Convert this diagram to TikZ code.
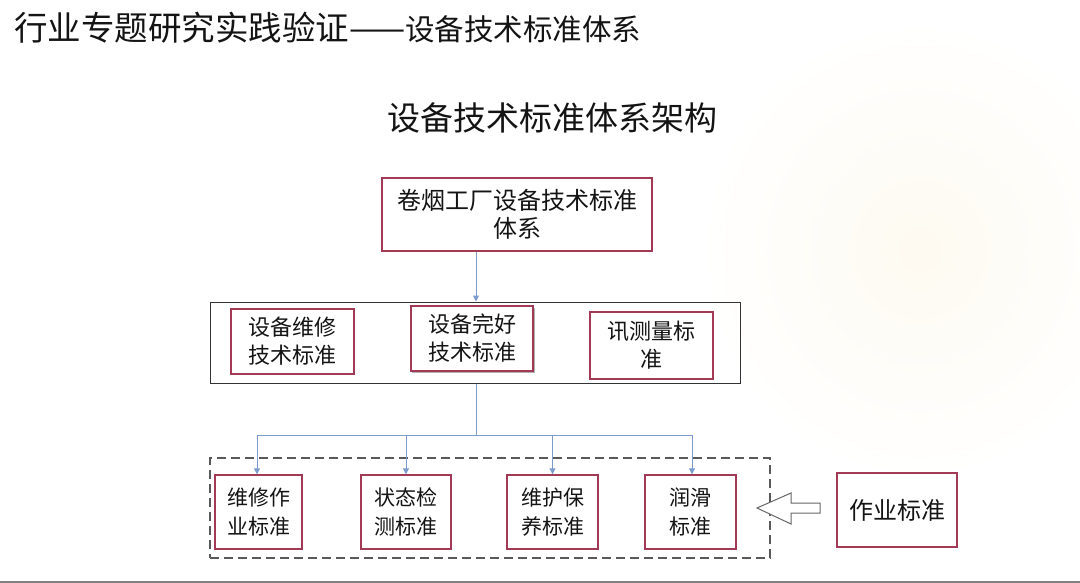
\documentclass[tikz,border=0pt]{standalone}
\usepackage{fontspec}
\setmainfont{Noto Sans CJK SC}
\usetikzlibrary{arrows.meta,shapes.geometric}
\definecolor{boxred}{HTML}{A23A55}
\definecolor{conn}{HTML}{7B9CCC}
\definecolor{txt}{HTML}{141414}
\definecolor{cream}{HTML}{FEFAF1}
\tikzset{
  redbox/.style={draw=boxred,line width=1.4pt,fill=white,inner sep=0pt,align=center,text=txt},
  midtext/.style={font=\fontsize{22pt}{28pt}\selectfont},
  bottext/.style={font=\fontsize{21pt}{29pt}\selectfont},
  connline/.style={draw=conn,line width=1pt},
  connarrow/.style={connline,-{Triangle[width=6pt,length=6pt]}},
}
\begin{document}
\begin{tikzpicture}[x=1pt,y=-1pt]
\useasboundingbox (0,0) rectangle (1080,583);
\fill[white] (0,0) rectangle (1080,583);
\shade[inner color=cream,outer color=white] (920,250) ellipse (220 and 230);
\draw[gray,line width=2pt] (0,582) -- (1080,582);

% titles
\node[anchor=west,text=txt,inner sep=0pt] (title) at (14,28)
  {\fontsize{33.5pt}{36pt}\selectfont 行业专题研究实践验证——\fontsize{29.5pt}{32pt}\selectfont 设备技术标准体系};
\node[text=txt,inner sep=0pt] (heading) at (552,118) {\fontsize{33pt}{36pt}\selectfont 设备技术标准体系架构};

% top box
\node[redbox,minimum width=270pt,minimum height=73pt,font=\fontsize{24pt}{28pt}\selectfont] (top) at (517,214.5) {卷烟工厂设备技术标准\\体系};

% middle group
\node[draw=black!80,line width=1pt,minimum width=530pt,minimum height=81pt,inner sep=0pt] (mid) at (475,342.5) {};
\node[redbox,midtext,minimum width=123pt,minimum height=65pt] (m1) at (292.5,341.5) {设备维修\\技术标准};
\fill[gray!60] (412,308) rectangle (535,373);
\node[redbox,midtext,minimum width=122pt,minimum height=65pt] (m2) at (472,338.5) {设备完好\\技术标准};
\node[redbox,midtext,minimum width=123pt,minimum height=67pt] (m3) at (651.5,345.5) {讯测量标\\准};

% bottom group
\node[draw=black!65,line width=1.2pt,dash pattern=on 9pt off 5pt,minimum width=560pt,minimum height=100pt,inner sep=0pt] (grp) at (490,508) {};
\node[redbox,bottext,minimum width=87pt,minimum height=74pt] (b1) at (258.5,512) {维修作\\业标准};
\node[redbox,bottext,minimum width=90pt,minimum height=74pt] (b2) at (406,512) {状态检\\测标准};
\node[redbox,bottext,minimum width=91pt,minimum height=74pt] (b3) at (552.5,512) {维护保\\养标准};
\node[redbox,bottext,minimum width=91pt,minimum height=74pt] (b4) at (690.5,512) {润滑\\标准};

\node[redbox,minimum width=120pt,minimum height=74pt,font=\fontsize{24pt}{28pt}\selectfont] (work) at (897,510) {作业标准};

% connectors
\draw[connarrow] (top.south -| 476,0) -- (mid.north -| 476,0);
\coordinate (junc) at (476,435);
\coordinate (hl) at (257,435);
\coordinate (hr) at (692,435);
\draw[connline] (mid.south -| junc) -- (junc);
\draw[connline] (hl) -- (hr);
\draw[connarrow] (hl) -- (b1.north -| hl);
\draw[connarrow] (b2.north |- junc) -- (b2.north);
\draw[connarrow] (b3.north |- junc) -- (b3.north);
\draw[connarrow] (hr) -- (b4.north -| hr);

% hollow arrow
\draw[gray!80!black,line width=1pt,fill=white,line join=miter]
  (757,508) -- (791,493) -- (791,503) -- (820,503) -- (820,513) -- (791,513) -- (791,524) -- cycle;
\end{tikzpicture}
\end{document}
